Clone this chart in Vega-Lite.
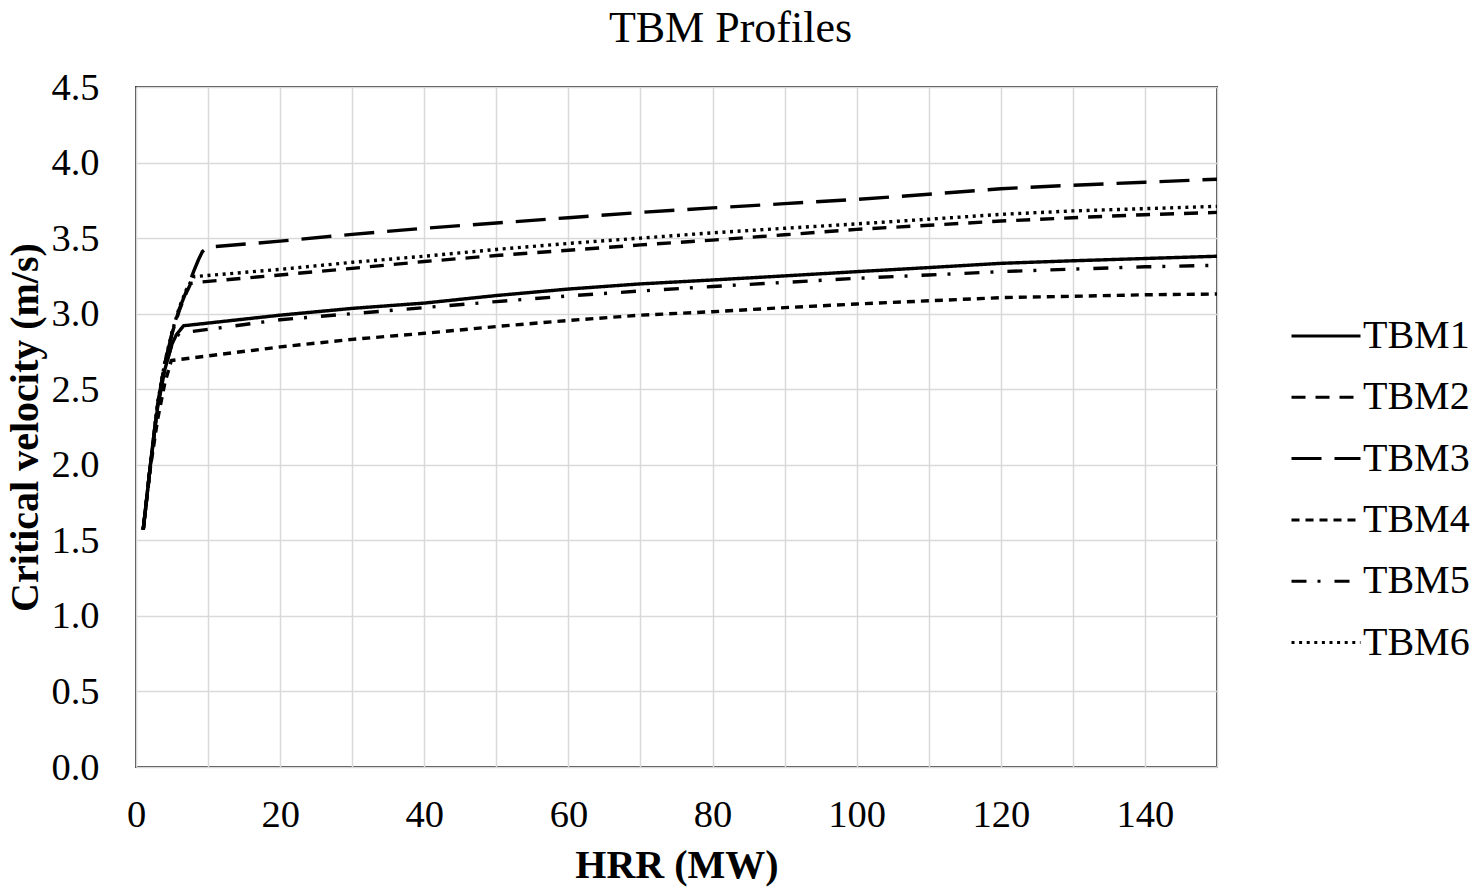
{
  "$schema": "https://vega.github.io/schema/vega-lite/v6.json",
  "width": 1081,
  "height": 680,
  "autosize": "none",
  "padding": {"left": 136, "top": 87, "right": 258, "bottom": 127},
  "background": "white",
  "title": {
    "text": "TBM Profiles",
    "font": "Liberation Serif",
    "fontSize": 44,
    "fontWeight": "normal",
    "color": "#000000",
    "anchor": "middle",
    "frame": "group",
    "dx": 54,
    "dy": 38,
    "baseline": "alphabetic",
    "offset": 20
  },
  "config": {
    "view": {"stroke": "#404040", "strokeWidth": 2},
    "axis": {
      "labelFont": "Liberation Serif",
      "titleFont": "Liberation Serif",
      "labelColor": "#000000",
      "titleColor": "#000000",
      "gridColor": "#d9d9d9",
      "gridWidth": 1.5,
      "domain": false,
      "ticks": false,
      "tickSize": 0
    }
  },
  "data": {
    "values": [
      {"series": "TBM1", "x": 1, "y": 1.57}, {"series": "TBM1", "x": 2, "y": 2.0}, {"series": "TBM1", "x": 3, "y": 2.38}, {"series": "TBM1", "x": 4, "y": 2.63}, {"series": "TBM1", "x": 5, "y": 2.8}, {"series": "TBM1", "x": 5.6, "y": 2.86}, {"series": "TBM1", "x": 6.6, "y": 2.92}, {"series": "TBM1", "x": 20, "y": 2.99}, {"series": "TBM1", "x": 30, "y": 3.035}, {"series": "TBM1", "x": 40, "y": 3.07}, {"series": "TBM1", "x": 50, "y": 3.12}, {"series": "TBM1", "x": 60, "y": 3.163}, {"series": "TBM1", "x": 70, "y": 3.197}, {"series": "TBM1", "x": 80, "y": 3.223}, {"series": "TBM1", "x": 90, "y": 3.25}, {"series": "TBM1", "x": 100, "y": 3.278}, {"series": "TBM1", "x": 110, "y": 3.305}, {"series": "TBM1", "x": 120, "y": 3.333}, {"series": "TBM1", "x": 130, "y": 3.35}, {"series": "TBM1", "x": 140, "y": 3.365}, {"series": "TBM1", "x": 150, "y": 3.38},
      {"series": "TBM2", "x": 1, "y": 1.57}, {"series": "TBM2", "x": 2, "y": 2.0}, {"series": "TBM2", "x": 3, "y": 2.4}, {"series": "TBM2", "x": 4, "y": 2.67}, {"series": "TBM2", "x": 5, "y": 2.87}, {"series": "TBM2", "x": 6, "y": 3.02}, {"series": "TBM2", "x": 7, "y": 3.14}, {"series": "TBM2", "x": 7.6, "y": 3.2}, {"series": "TBM2", "x": 9.1, "y": 3.21}, {"series": "TBM2", "x": 20, "y": 3.256}, {"series": "TBM2", "x": 30, "y": 3.3}, {"series": "TBM2", "x": 40, "y": 3.345}, {"series": "TBM2", "x": 50, "y": 3.385}, {"series": "TBM2", "x": 60, "y": 3.42}, {"series": "TBM2", "x": 70, "y": 3.455}, {"series": "TBM2", "x": 80, "y": 3.487}, {"series": "TBM2", "x": 90, "y": 3.522}, {"series": "TBM2", "x": 100, "y": 3.558}, {"series": "TBM2", "x": 110, "y": 3.585}, {"series": "TBM2", "x": 120, "y": 3.613}, {"series": "TBM2", "x": 130, "y": 3.635}, {"series": "TBM2", "x": 140, "y": 3.655}, {"series": "TBM2", "x": 150, "y": 3.67},
      {"series": "TBM3", "x": 1, "y": 1.57}, {"series": "TBM3", "x": 2, "y": 2.0}, {"series": "TBM3", "x": 3, "y": 2.4}, {"series": "TBM3", "x": 4, "y": 2.67}, {"series": "TBM3", "x": 5, "y": 2.87}, {"series": "TBM3", "x": 6, "y": 3.03}, {"series": "TBM3", "x": 7, "y": 3.15}, {"series": "TBM3", "x": 8, "y": 3.28}, {"series": "TBM3", "x": 8.65, "y": 3.355}, {"series": "TBM3", "x": 9.2, "y": 3.41}, {"series": "TBM3", "x": 10, "y": 3.44}, {"series": "TBM3", "x": 20, "y": 3.48}, {"series": "TBM3", "x": 30, "y": 3.525}, {"series": "TBM3", "x": 40, "y": 3.565}, {"series": "TBM3", "x": 50, "y": 3.6}, {"series": "TBM3", "x": 60, "y": 3.635}, {"series": "TBM3", "x": 70, "y": 3.67}, {"series": "TBM3", "x": 80, "y": 3.7}, {"series": "TBM3", "x": 90, "y": 3.728}, {"series": "TBM3", "x": 100, "y": 3.756}, {"series": "TBM3", "x": 110, "y": 3.79}, {"series": "TBM3", "x": 120, "y": 3.827}, {"series": "TBM3", "x": 130, "y": 3.85}, {"series": "TBM3", "x": 140, "y": 3.87}, {"series": "TBM3", "x": 150, "y": 3.89},
      {"series": "TBM4", "x": 1, "y": 1.57}, {"series": "TBM4", "x": 2, "y": 1.98}, {"series": "TBM4", "x": 3, "y": 2.3}, {"series": "TBM4", "x": 4, "y": 2.54}, {"series": "TBM4", "x": 4.9, "y": 2.69}, {"series": "TBM4", "x": 20, "y": 2.78}, {"series": "TBM4", "x": 30, "y": 2.83}, {"series": "TBM4", "x": 40, "y": 2.87}, {"series": "TBM4", "x": 50, "y": 2.915}, {"series": "TBM4", "x": 60, "y": 2.955}, {"series": "TBM4", "x": 70, "y": 2.99}, {"series": "TBM4", "x": 80, "y": 3.013}, {"series": "TBM4", "x": 90, "y": 3.04}, {"series": "TBM4", "x": 100, "y": 3.064}, {"series": "TBM4", "x": 110, "y": 3.085}, {"series": "TBM4", "x": 120, "y": 3.106}, {"series": "TBM4", "x": 130, "y": 3.115}, {"series": "TBM4", "x": 140, "y": 3.125}, {"series": "TBM4", "x": 150, "y": 3.13},
      {"series": "TBM5", "x": 1, "y": 1.57}, {"series": "TBM5", "x": 2, "y": 2.0}, {"series": "TBM5", "x": 3, "y": 2.39}, {"series": "TBM5", "x": 4, "y": 2.64}, {"series": "TBM5", "x": 5, "y": 2.8}, {"series": "TBM5", "x": 6, "y": 2.87}, {"series": "TBM5", "x": 7.5, "y": 2.88}, {"series": "TBM5", "x": 20, "y": 2.96}, {"series": "TBM5", "x": 30, "y": 3.0}, {"series": "TBM5", "x": 40, "y": 3.04}, {"series": "TBM5", "x": 50, "y": 3.08}, {"series": "TBM5", "x": 60, "y": 3.117}, {"series": "TBM5", "x": 70, "y": 3.15}, {"series": "TBM5", "x": 80, "y": 3.18}, {"series": "TBM5", "x": 90, "y": 3.207}, {"series": "TBM5", "x": 100, "y": 3.234}, {"series": "TBM5", "x": 110, "y": 3.256}, {"series": "TBM5", "x": 120, "y": 3.278}, {"series": "TBM5", "x": 130, "y": 3.295}, {"series": "TBM5", "x": 140, "y": 3.31}, {"series": "TBM5", "x": 150, "y": 3.32},
      {"series": "TBM6", "x": 1, "y": 1.57}, {"series": "TBM6", "x": 2, "y": 2.0}, {"series": "TBM6", "x": 3, "y": 2.41}, {"series": "TBM6", "x": 4, "y": 2.68}, {"series": "TBM6", "x": 5, "y": 2.88}, {"series": "TBM6", "x": 6, "y": 3.04}, {"series": "TBM6", "x": 7, "y": 3.16}, {"series": "TBM6", "x": 8, "y": 3.245}, {"series": "TBM6", "x": 20, "y": 3.293}, {"series": "TBM6", "x": 30, "y": 3.34}, {"series": "TBM6", "x": 40, "y": 3.38}, {"series": "TBM6", "x": 50, "y": 3.425}, {"series": "TBM6", "x": 60, "y": 3.465}, {"series": "TBM6", "x": 70, "y": 3.5}, {"series": "TBM6", "x": 80, "y": 3.535}, {"series": "TBM6", "x": 90, "y": 3.565}, {"series": "TBM6", "x": 100, "y": 3.594}, {"series": "TBM6", "x": 110, "y": 3.625}, {"series": "TBM6", "x": 120, "y": 3.657}, {"series": "TBM6", "x": 130, "y": 3.68}, {"series": "TBM6", "x": 140, "y": 3.695}, {"series": "TBM6", "x": 150, "y": 3.71}
    ]
  },
  "mark": {"type": "line", "color": "#000000", "strokeWidth": 3.4, "strokeCap": "butt", "strokeJoin": "round", "clip": true},
  "encoding": {
    "x": {
      "field": "x",
      "type": "quantitative",
      "scale": {"domain": [0, 150], "nice": false, "zero": true},
      "axis": {
        "title": "HRR (MW)",
        "values": [0, 10, 20, 30, 40, 50, 60, 70, 80, 90, 100, 110, 120, 130, 140, 150],
        "labelExpr": "datum.value % 20 === 0 && datum.value < 150 ? datum.label : ''",
        "labelFontSize": 38.5,
        "labelPadding": 29,
        "titleFontSize": 40,
        "titleFontWeight": "bold",
        "titlePadding": 12,
        "labelFlush": false,
        "labelOverlap": false
      }
    },
    "y": {
      "field": "y",
      "type": "quantitative",
      "scale": {"domain": [0, 4.5], "nice": false},
      "axis": {
        "title": "Critical velocity (m/s)",
        "values": [0, 0.5, 1, 1.5, 2, 2.5, 3, 3.5, 4, 4.5],
        "format": ".1f",
        "labelFontSize": 38.5,
        "labelPadding": 37,
        "titleFontSize": 40,
        "titleFontWeight": "bold",
        "titlePadding": 5,
        "labelFlush": false,
        "labelOverlap": false
      }
    },
    "strokeDash": {
      "field": "series",
      "type": "nominal",
      "scale": {
        "domain": ["TBM1", "TBM2", "TBM3", "TBM4", "TBM5", "TBM6"],
        "range": [[1, 0], [14, 10], [30, 13], [8, 6], [15, 11, 3, 14], [3, 4.6]]
      },
      "legend": {
        "title": null,
        "orient": "none",
        "legendX": 1154,
        "legendY": 213,
        "symbolType": "stroke",
        "symbolSize": 4761,
        "symbolStrokeWidth": 3,
        "symbolStrokeColor": "#000000",
        "labelFont": "Liberation Serif",
        "labelFontSize": 40,
        "labelColor": "#000000",
        "labelOffset": 1,
        "rowPadding": 5.3,
        "labelLimit": 300
      }
    }
  }
}
